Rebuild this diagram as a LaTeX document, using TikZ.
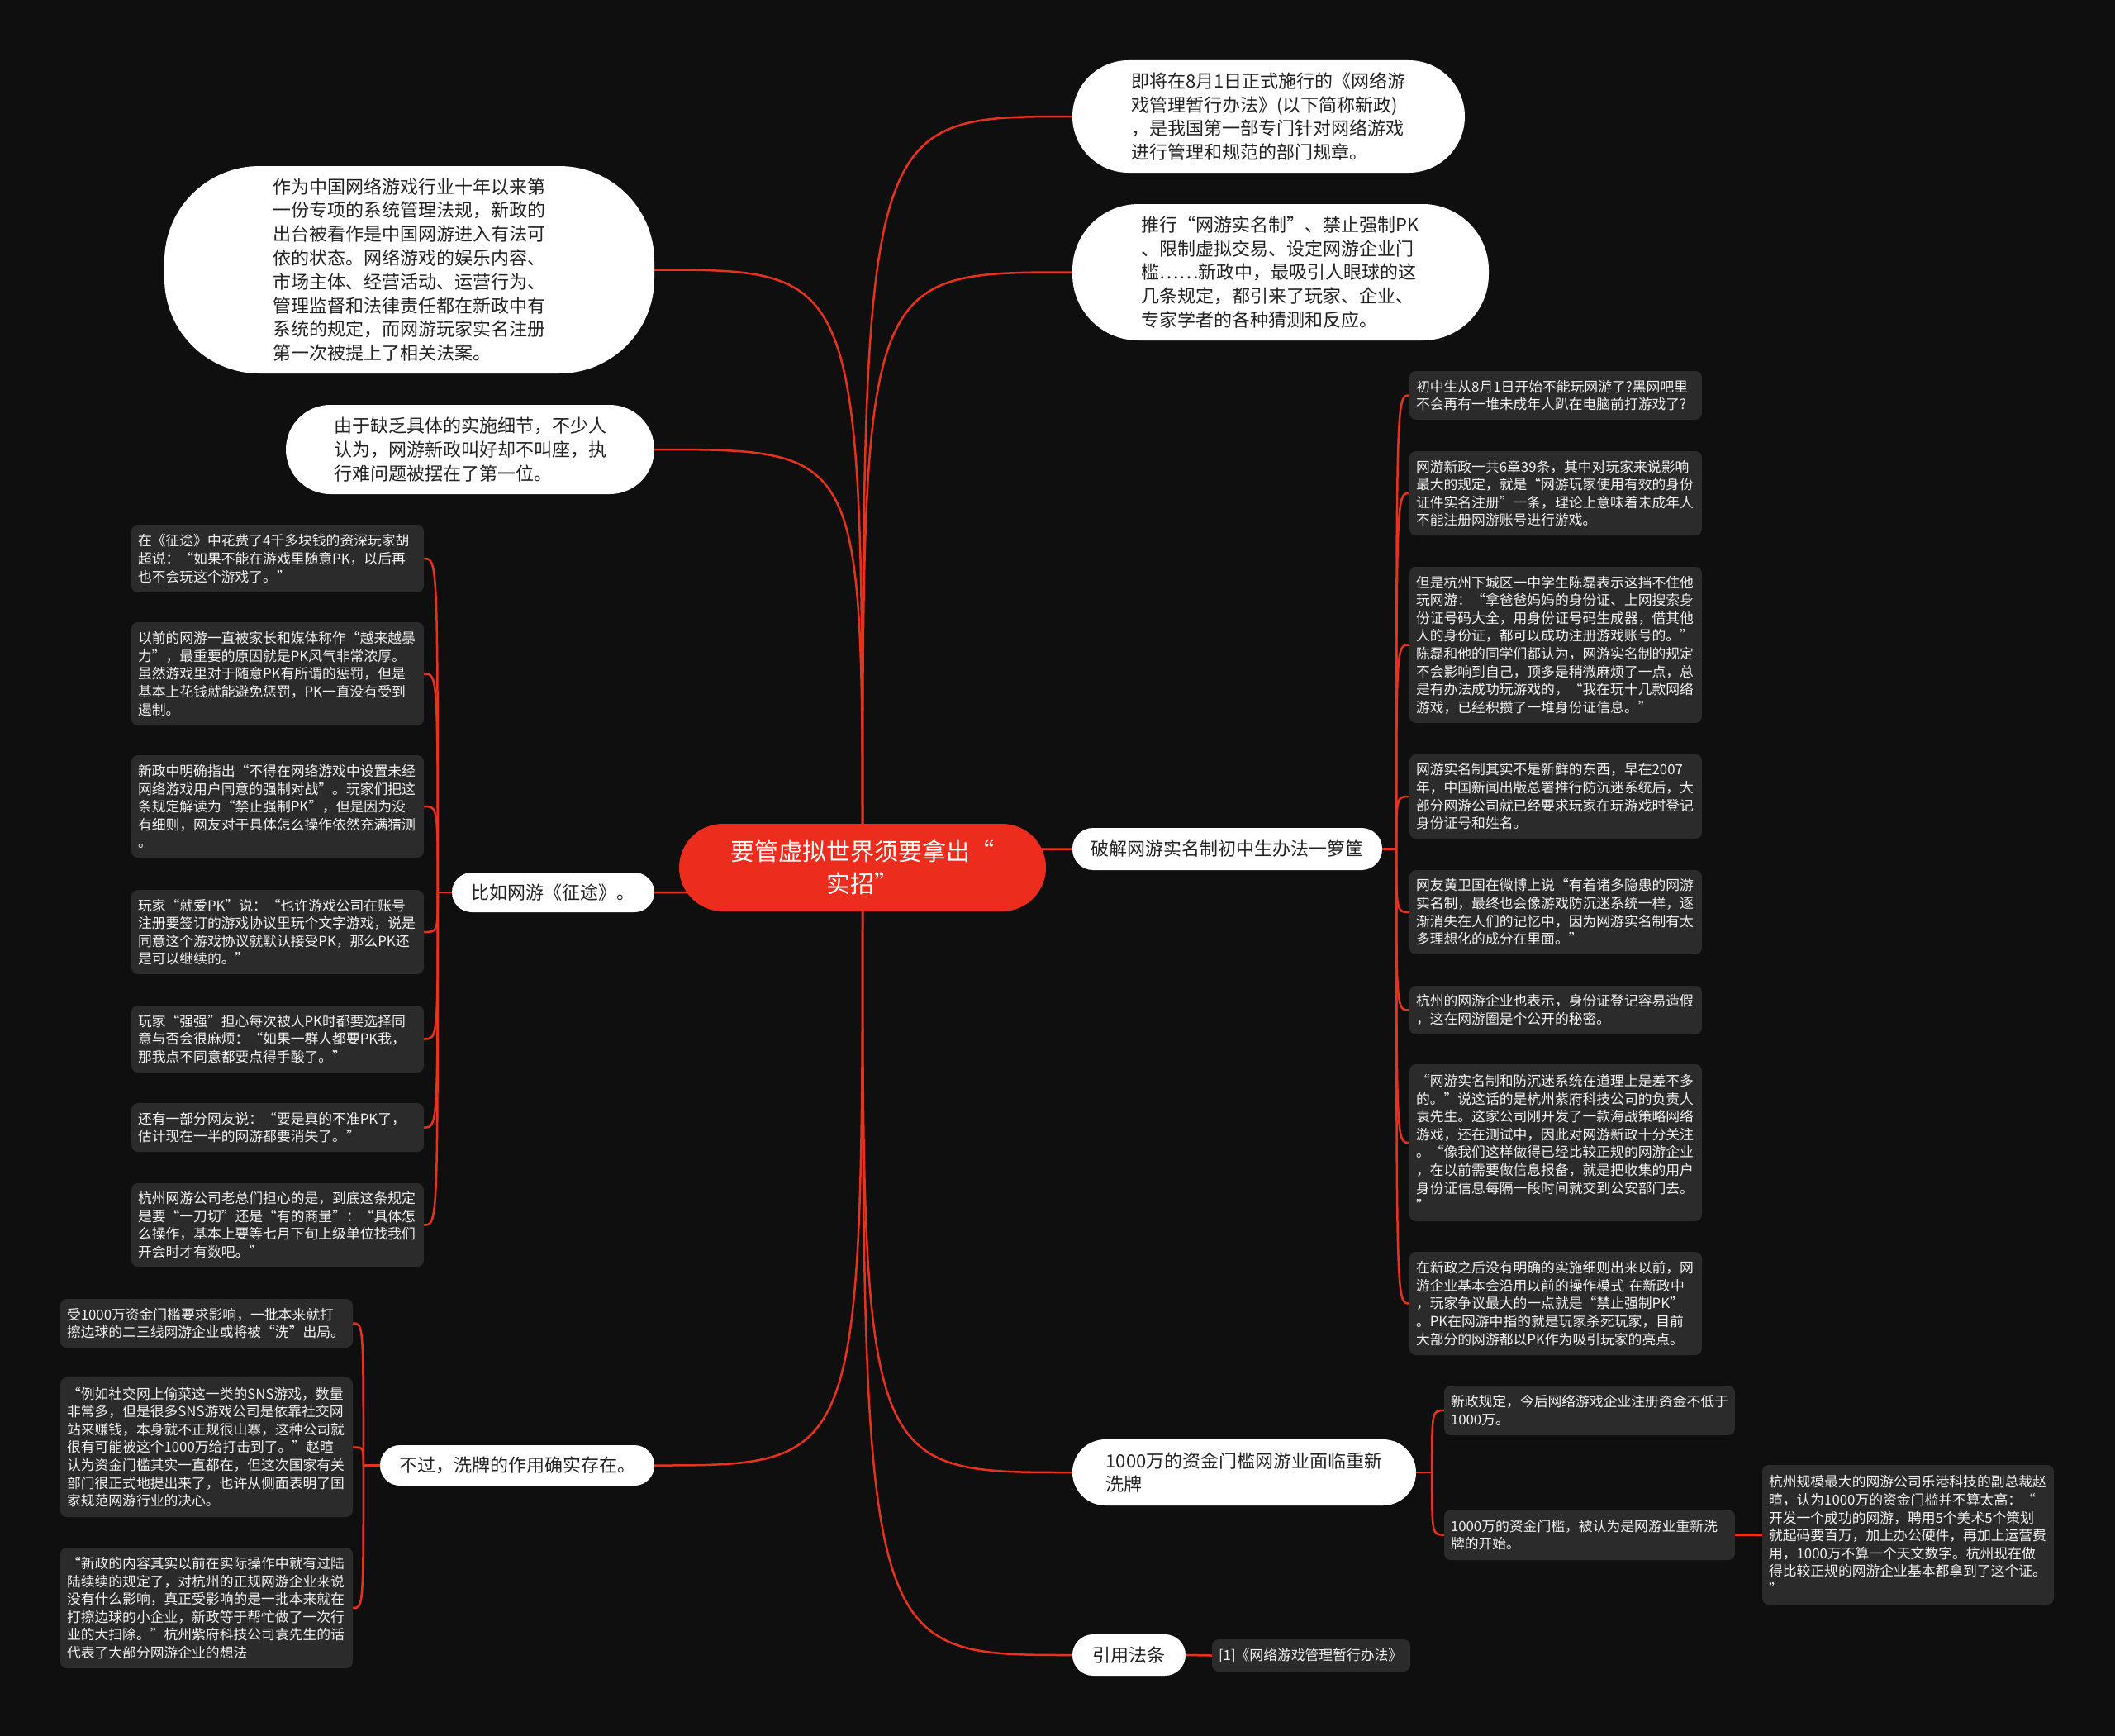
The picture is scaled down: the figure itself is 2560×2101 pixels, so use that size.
\documentclass[tikz,border=0pt]{standalone}
\usepackage{fontspec}
\setmainfont{Noto Sans CJK SC}
\definecolor{bgc}{HTML}{0F0F0F}
\definecolor{leafc}{HTML}{2B2B2B}
\definecolor{leaftext}{HTML}{F2F2F2}
\definecolor{wtext}{HTML}{222222}
\definecolor{centerc}{HTML}{EC2C1C}
\definecolor{linec}{HTML}{E8321E}
\pgfdeclarelayer{bg}
\pgfdeclarelayer{lines}
\pgfsetlayers{bg,lines,main}
\begin{document}
\begin{tikzpicture}[x=1pt,y=-1pt,
  cnode/.style={fill=centerc,text=white,font=\fontsize{29}{39}\selectfont,align=center,inner sep=0pt,minimum width=444pt,minimum height=106pt,rounded corners=53pt},
  wnode/.style={fill=white,text=wtext,font=\fontsize{22}{28.8}\selectfont,align=left,inner sep=0pt},
  leaf/.style={fill=leafc,text=leaftext,font=\fontsize{16.8}{21.6}\selectfont,align=left,inner xsep=8pt,inner ysep=0pt,rounded corners=8pt,text width=338pt},
  link/.style={draw=linec,line width=2.5pt}]
\useasboundingbox (0,0) rectangle (2560,2101);
\begin{pgfonlayer}{bg}
\fill[bgc] (0,0) rectangle (2560,2101);
\end{pgfonlayer}
% center
\node[cnode] (c) at (1044,1050) {要管虚拟世界须要拿出“\\实招”};
% main branches
\node[wnode,minimum width=475pt,minimum height=136pt,rounded corners=68pt] (A) at (1535.5,141) {即将在8月1日正式施行的《网络游\\戏管理暂行办法》(以下简称新政)\\，是我国第一部专门针对网络游戏\\进行管理和规范的部门规章。};
\node[wnode,minimum width=504pt,minimum height=165pt,rounded corners=80pt] (B) at (1550,329.5) {推行“网游实名制”、禁止强制PK\\、限制虚拟交易、设定网游企业门\\槛……新政中，最吸引人眼球的这\\几条规定，都引来了玩家、企业、\\专家学者的各种猜测和反应。};
\node[wnode,minimum width=593pt,minimum height=251pt,rounded corners=115pt] (C) at (495.5,326.5) {作为中国网络游戏行业十年以来第\\一份专项的系统管理法规，新政的\\出台被看作是中国网游进入有法可\\依的状态。网络游戏的娱乐内容、\\市场主体、经营活动、运营行为、\\管理监督和法律责任都在新政中有\\系统的规定，而网游玩家实名注册\\第一次被提上了相关法案。};
\node[wnode,minimum width=446pt,minimum height=108pt,rounded corners=54pt] (D) at (569,544) {由于缺乏具体的实施细节，不少人\\认为，网游新政叫好却不叫座，执\\行难问题被摆在了第一位。};
\node[wnode,minimum width=375pt,minimum height=51pt,rounded corners=25pt] (E) at (1485.5,1027.5) {破解网游实名制初中生办法一箩筐};
\node[wnode,minimum width=245pt,minimum height=48pt,rounded corners=24pt] (F) at (669.5,1080) {比如网游《征途》。};
\node[wnode,minimum width=332pt,minimum height=49pt,rounded corners=24pt] (G) at (626,1773.5) {不过，洗牌的作用确实存在。};
\node[wnode,minimum width=416pt,minimum height=80pt,rounded corners=40pt] (H) at (1506,1782) {1000万的资金门槛网游业面临重新\\洗牌};
\node[wnode,minimum width=137pt,minimum height=50pt,rounded corners=25pt] (I) at (1366.5,2003) {引用法条};
% right leaves
\node[leaf,minimum height=59pt] (R1) at (1883,478.5) {初中生从8月1日开始不能玩网游了?黑网吧里\\不会再有一堆未成年人趴在电脑前打游戏了?};
\node[leaf,minimum height=102pt] (R2) at (1883,597) {网游新政一共6章39条，其中对玩家来说影响\\最大的规定，就是“网游玩家使用有效的身份\\证件实名注册”一条，理论上意味着未成年人\\不能注册网游账号进行游戏。};
\node[leaf,minimum height=189pt] (R3) at (1883,780.5) {但是杭州下城区一中学生陈磊表示这挡不住他\\玩网游：“拿爸爸妈妈的身份证、上网搜索身\\份证号码大全，用身份证号码生成器，借其他\\人的身份证，都可以成功注册游戏账号的。”\\陈磊和他的同学们都认为，网游实名制的规定\\不会影响到自己，顶多是稍微麻烦了一点，总\\是有办法成功玩游戏的，“我在玩十几款网络\\游戏，已经积攒了一堆身份证信息。”};
\node[leaf,minimum height=102pt] (R4) at (1883,964) {网游实名制其实不是新鲜的东西，早在2007\\年，中国新闻出版总署推行防沉迷系统后，大\\部分网游公司就已经要求玩家在玩游戏时登记\\身份证号和姓名。};
\node[leaf,minimum height=102pt] (R5) at (1883,1104) {网友黄卫国在微博上说“有着诸多隐患的网游\\实名制，最终也会像游戏防沉迷系统一样，逐\\渐消失在人们的记忆中，因为网游实名制有太\\多理想化的成分在里面。”};
\node[leaf,minimum height=59pt] (R6) at (1883,1222.5) {杭州的网游企业也表示，身份证登记容易造假\\，这在网游圈是个公开的秘密。};
\node[leaf,minimum height=190pt] (R7) at (1883,1383) {“网游实名制和防沉迷系统在道理上是差不多\\的。”说这话的是杭州紫府科技公司的负责人\\袁先生。这家公司刚开发了一款海战策略网络\\游戏，还在测试中，因此对网游新政十分关注\\。“像我们这样做得已经比较正规的网游企业\\，在以前需要做信息报备，就是把收集的用户\\身份证信息每隔一段时间就交到公安部门去。\\”};
\node[leaf,minimum height=125pt] (R8) at (1883,1577.5) {在新政之后没有明确的实施细则出来以前，网\\游企业基本会沿用以前的操作模式 在新政中\\，玩家争议最大的一点就是“禁止强制PK”\\。PK在网游中指的就是玩家杀死玩家，目前\\大部分的网游都以PK作为吸引玩家的亮点。};
% left leaves
\node[leaf,minimum height=82pt] (L1) at (336,676) {在《征途》中花费了4千多块钱的资深玩家胡\\超说：“如果不能在游戏里随意PK，以后再\\也不会玩这个游戏了。”};
\node[leaf,minimum height=125pt] (L2) at (336,815.5) {以前的网游一直被家长和媒体称作“越来越暴\\力”，最重要的原因就是PK风气非常浓厚。\\虽然游戏里对于随意PK有所谓的惩罚，但是\\基本上花钱就能避免惩罚，PK一直没有受到\\遏制。};
\node[leaf,minimum height=124pt] (L3) at (336,976) {新政中明确指出“不得在网络游戏中设置未经\\网络游戏用户同意的强制对战”。玩家们把这\\条规定解读为“禁止强制PK”，但是因为没\\有细则，网友对于具体怎么操作依然充满猜测\\。};
\node[leaf,minimum height=102pt] (L4) at (336,1128) {玩家“就爱PK”说：“也许游戏公司在账号\\注册要签订的游戏协议里玩个文字游戏，说是\\同意这个游戏协议就默认接受PK，那么PK还\\是可以继续的。”};
\node[leaf,minimum height=81pt] (L5) at (336,1257.5) {玩家“强强”担心每次被人PK时都要选择同\\意与否会很麻烦：“如果一群人都要PK我，\\那我点不同意都要点得手酸了。”};
\node[leaf,minimum height=59pt] (L6) at (336,1364.5) {还有一部分网友说：“要是真的不准PK了，\\估计现在一半的网游都要消失了。”};
\node[leaf,minimum height=101pt] (L7) at (336,1482.5) {杭州网游公司老总们担心的是，到底这条规定\\是要“一刀切”还是“有的商量”：“具体怎\\么操作，基本上要等七月下旬上级单位找我们\\开会时才有数吧。”};
% lower-left leaves
\node[leaf,minimum height=59pt] (LL1) at (250,1601.5) {受1000万资金门槛要求影响，一批本来就打\\擦边球的二三线网游企业或将被“洗”出局。};
\node[leaf,minimum height=169pt] (LL2) at (250,1751.5) {“例如社交网上偷菜这一类的SNS游戏，数量\\非常多，但是很多SNS游戏公司是依靠社交网\\站来赚钱，本身就不正规很山寨，这种公司就\\很有可能被这个1000万给打击到了。”赵暄\\认为资金门槛其实一直都在，但这次国家有关\\部门很正式地提出来了，也许从侧面表明了国\\家规范网游行业的决心。};
\node[leaf,minimum height=146pt] (LL3) at (250,1946) {“新政的内容其实以前在实际操作中就有过陆\\陆续续的规定了，对杭州的正规网游企业来说\\没有什么影响，真正受影响的是一批本来就在\\打擦边球的小企业，新政等于帮忙做了一次行\\业的大扫除。”杭州紫府科技公司袁先生的话\\代表了大部分网游企业的想法};
% bottom-right leaves
\node[leaf,text width=336pt,minimum height=60pt] (BR1) at (1924,1707) {新政规定，今后网络游戏企业注册资金不低于\\1000万。};
\node[leaf,text width=336pt,minimum height=61pt] (BR2) at (1924,1857.5) {1000万的资金门槛，被认为是网游业重新洗\\牌的开始。};
\node[leaf,text width=337pt,minimum height=169pt] (BR3) at (2309.5,1857.5) {杭州规模最大的网游公司乐港科技的副总裁赵\\暄，认为1000万的资金门槛并不算太高：“\\开发一个成功的网游，聘用5个美术5个策划\\就起码要百万，加上办公硬件，再加上运营费\\用，1000万不算一个天文数字。杭州现在做\\得比较正规的网游企业基本都拿到了这个证。\\”};
\node[leaf,text width=224pt,minimum height=39pt] (CT) at (1587,2003.5) {[1]《网络游戏管理暂行办法》};
% connectors
\begin{pgfonlayer}{lines}
\foreach \n in {A,B,E,H,I}
  \draw[link] (c.center) .. controls (c.center |- \n.west) .. (\n.west);
\foreach \n in {C,D,F,G}
  \draw[link] (c.center) .. controls (c.center |- \n.east) .. (\n.east);
\draw[link] (E.east) -- ++(17,0) coordinate (et);
\foreach \n in {R1,R2,R3,R4,R5,R6,R7,R8}
  \draw[link] (et) .. controls (et |- \n.west) .. (\n.west);
\draw[link] (F.west) -- ++(-17,0) coordinate (ft);
\foreach \n in {L1,L2,L3,L4,L5,L6,L7}
  \draw[link] (ft) .. controls (ft |- \n.east) .. (\n.east);
\draw[link] (G.west) -- ++(-20,0) coordinate (gt);
\foreach \n in {LL1,LL2,LL3}
  \draw[link] (gt) .. controls (gt |- \n.east) .. (\n.east);
\draw[link] (H.east) -- ++(19,0) coordinate (ht);
\foreach \n in {BR1,BR2}
  \draw[link] (ht) .. controls (ht |- \n.west) .. (\n.west);
\draw[link] (BR2.east) -- (BR3.west);
\draw[link] (I.east) -- (CT.west);
\end{pgfonlayer}
\end{tikzpicture}
\end{document}
